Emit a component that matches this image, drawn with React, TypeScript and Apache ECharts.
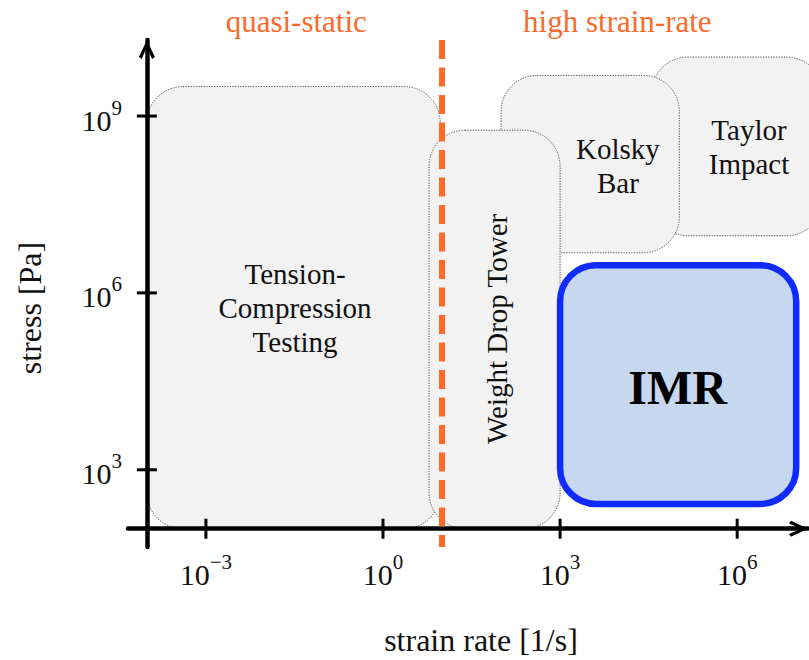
import React, { useEffect, useRef } from 'react';
import * as echarts from 'echarts';

// All positions below are log10 values (strain rate in 1/s, stress in Pa)
const X_CROSS = -4; // axes cross at strain rate 1e-4
const Y_CROSS = 2; // and stress 1e2
const X_MIN = -4.32;
const X_MAX = 7.2;
const Y_MIN = 1.69;
const Y_MAX = 10.29;
const X_TICKS = [-3, 0, 3, 6];
const Y_TICKS = [3, 6, 9];

const BOX_NAMES = ['Tension-\nCompression\nTesting', 'Taylor\nImpact', 'Kolsky\nBar', 'Weight Drop Tower'];
const BOX_X0 = [-4, 4.55, 2.0, 0.78];
const BOX_X1 = [0.97, 7.45, 5.02, 3.0];
const BOX_Y0 = [2, 6.97, 6.68, 2];
const BOX_Y1 = [9.5, 10.0, 9.69, 8.76];
const LABEL_X = [-1.49, 6.2, 3.98, 1.93];
const LABEL_Y = [5.75, 8.48, 8.16, 5.39];

const IMR_NAME = 'IMR';
const IMR_X = [3.0, 7.0];
const IMR_Y = [2.42, 6.47];
const IMR_LABEL = [4.99, 4.39];

const DIVIDER_X = 1.0;
const REGION_NAMES = ['quasi-static', 'high strain-rate'];
const REGION_X = [-1.47, 3.97];
const REGION_Y = 10.61;

const FONT = '"Liberation Serif", "Times New Roman", serif';
const ORANGE = '#fb6a2b';

const sx = (v: number) => v - X_CROSS;
const sy = (v: number) => v - Y_CROSS;

const sup = (n: number) => String(n).replace('-', '\u2212');

export default function App() {
  const ref = useRef<HTMLDivElement>(null);

  useEffect(() => {
    if (!ref.current) return;
    const chart = echarts.init(ref.current, undefined, { renderer: 'svg' });

    const arrowPath = 'path://M8 0 L16 17 L13.2 19 L8 7 L2.8 19 L0 17 Z';
    const rich = {
      b: { fontSize: 30, fontFamily: FONT, color: '#111', lineHeight: 38, verticalAlign: 'bottom' },
      s: { fontSize: 21, fontFamily: FONT, color: '#111', lineHeight: 21, verticalAlign: 'top' },
    };

    const tickData = [
      ...X_TICKS.map((t) => [sx(t), 0, 0]),
      ...Y_TICKS.map((t) => [0, sy(t), 1]),
    ];

    const boxData = BOX_NAMES.map((_, i) => [
      sx(BOX_X0[i]), sx(BOX_X1[i]), sy(BOX_Y0[i]), sy(BOX_Y1[i]), sx(LABEL_X[i]), sy(LABEL_Y[i]),
    ]);

    const option = {
      animation: false,
      grid: { left: 128, right: 1, top: 40, bottom: 113, containLabel: false, outerBoundsMode: 'none' },
      xAxis: {
        type: 'value',
        min: sx(X_MIN),
        max: sx(X_MAX),
        z: 3,
        splitLine: { show: false },
        name: 'strain rate [1/s]',
        nameLocation: 'middle',
        nameGap: 77,
        nameMoveOverlap: false,
        nameTextStyle: { fontSize: 32, fontFamily: FONT, color: '#111', padding: [0, 0, 0, 26] },
        axisLine: {
          onZero: true,
          lineStyle: { color: '#000', width: 4.5 },
          symbol: ['none', arrowPath],
          symbolSize: [16, 19],
          symbolOffset: [0, -9.5],
        },
        axisTick: { show: false, customValues: X_TICKS.map(sx) },
        axisLabel: {
          margin: 4,
          customValues: X_TICKS.map(sx),
          formatter: (v: number) => `{b|10}{s|${sup(Math.round(v + X_CROSS))}}`,
          rich,
        },
      },
      yAxis: {
        type: 'value',
        min: sy(Y_MIN),
        max: sy(Y_MAX),
        z: 3,
        splitLine: { show: false },
        position: 'left',
        name: 'stress [Pa]',
        nameLocation: 'middle',
        nameGap: 82,
        nameRotate: 90,
        nameMoveOverlap: false,
        nameTextStyle: { fontSize: 32, fontFamily: FONT, color: '#111', padding: [0, 29, 0, 0] },
        axisLine: {
          onZero: true,
          lineStyle: { color: '#000', width: 4.5 },
          symbol: ['none', arrowPath],
          symbolSize: [16, 19],
          symbolOffset: [0, -9.5],
        },
        axisTick: { show: false, customValues: Y_TICKS.map(sy) },
        axisLabel: {
          margin: 6,
          customValues: Y_TICKS.map(sy),
          formatter: (v: number) => `{b|10}{s|${sup(Math.round(v + Y_CROSS))}}`,
          rich,
        },
      },
      series: [
        {
          type: 'custom',
          name: 'methods',
          coordinateSystem: 'cartesian2d',
          clip: false,
          silent: true,
          z: 2,
          data: boxData,
          renderItem: (params: any, api: any) => {
            const p0 = api.coord([api.value(0), api.value(3)]);
            const p1 = api.coord([api.value(1), api.value(2)]);
            const lp = api.coord([api.value(4), api.value(5)]);
            const idx = params.dataIndex;
            const vertical = idx === 3;
            return {
              type: 'group',
              children: [
                {
                  type: 'rect',
                  shape: { x: p0[0], y: p0[1], width: p1[0] - p0[0], height: p1[1] - p0[1], r: 36 },
                  style: { fill: '#f2f2f2', stroke: '#555', lineWidth: 1, lineDash: [1.3, 1.3] },
                },
                {
                  type: 'text',
                  x: lp[0],
                  y: lp[1],
                  rotation: vertical ? Math.PI / 2 : 0,
                  style: {
                    text: BOX_NAMES[idx],
                    x: 0,
                    y: 0,
                    align: 'center',
                    textAlign: 'center',
                    verticalAlign: 'middle',
                    textVerticalAlign: 'middle',
                    fontSize: 29,
                    fontFamily: FONT,
                    lineHeight: 34,
                    fill: '#111',
                  },
                },
              ],
            };
          },
        },
        {
          type: 'custom',
          name: 'IMR',
          coordinateSystem: 'cartesian2d',
          clip: false,
          silent: true,
          z: 2,
          data: [[sx(IMR_X[0]), sx(IMR_X[1]), sy(IMR_Y[0]), sy(IMR_Y[1]), sx(IMR_LABEL[0]), sy(IMR_LABEL[1])]],
          renderItem: (params: any, api: any) => {
            const p0 = api.coord([api.value(0), api.value(3)]);
            const p1 = api.coord([api.value(1), api.value(2)]);
            const lp = api.coord([api.value(4), api.value(5)]);
            return {
              type: 'group',
              children: [
                {
                  type: 'rect',
                  shape: { x: p0[0], y: p0[1], width: p1[0] - p0[0], height: p1[1] - p0[1], r: 36 },
                  style: { fill: '#c6d8f0', stroke: '#0f2bff', lineWidth: 6.5 },
                },
                {
                  type: 'text',
                  x: lp[0],
                  y: lp[1],
                  style: {
                    text: IMR_NAME,
                    x: 0,
                    y: 0,
                    align: 'center',
                    textAlign: 'center',
                    verticalAlign: 'middle',
                    textVerticalAlign: 'middle',
                    fontSize: 48,
                    fontWeight: 'bold',
                    fontFamily: FONT,
                    fill: '#000',
                  },
                },
              ],
            };
          },
        },
        {
          type: 'custom',
          name: 'ticks',
          coordinateSystem: 'cartesian2d',
          clip: false,
          silent: true,
          z: 3,
          data: tickData,
          renderItem: (params: any, api: any) => {
            const p = api.coord([api.value(0), api.value(1)]);
            const horiz = api.value(2) === 0;
            return {
              type: 'line',
              shape: horiz
                ? { x1: p[0], y1: p[1] - 10, x2: p[0], y2: p[1] + 10 }
                : { x1: p[0] - 10, y1: p[1], x2: p[0] + 10, y2: p[1] },
              style: { stroke: '#000', lineWidth: 3 },
            };
          },
        },
        {
          type: 'custom',
          name: 'divider',
          coordinateSystem: 'cartesian2d',
          clip: false,
          silent: true,
          z: 4,
          data: [[sx(DIVIDER_X), 0]],
          renderItem: (params: any, api: any) => {
            const top = api.coord([api.value(0), sy(Y_MAX)]);
            const bottom = api.coord([api.value(0), sy(Y_MIN)]);
            return {
              type: 'line',
              shape: { x1: top[0], y1: top[1], x2: bottom[0], y2: bottom[1] },
              style: { stroke: ORANGE, lineWidth: 6, lineDash: [19, 8.5] },
            };
          },
        },
        {
          type: 'custom',
          name: 'regions',
          coordinateSystem: 'cartesian2d',
          clip: false,
          silent: true,
          z: 4,
          data: REGION_NAMES.map((_, i) => [sx(REGION_X[i]), sy(REGION_Y)]),
          renderItem: (params: any, api: any) => {
            const p = api.coord([api.value(0), api.value(1)]);
            return {
              type: 'text',
              x: p[0],
              y: p[1],
              style: {
                text: REGION_NAMES[params.dataIndex],
                x: 0,
                y: 0,
                align: 'center',
                textAlign: 'center',
                verticalAlign: 'middle',
                textVerticalAlign: 'middle',
                fontSize: 31,
                fontFamily: FONT,
                fill: ORANGE,
              },
            };
          },
        },
      ],
    };

    chart.setOption(option as any);
    return () => chart.dispose();
  }, []);

  return <div ref={ref} style={{ position: 'absolute', left: 0, top: 0, width: 809, height: 660 }} />;
}
